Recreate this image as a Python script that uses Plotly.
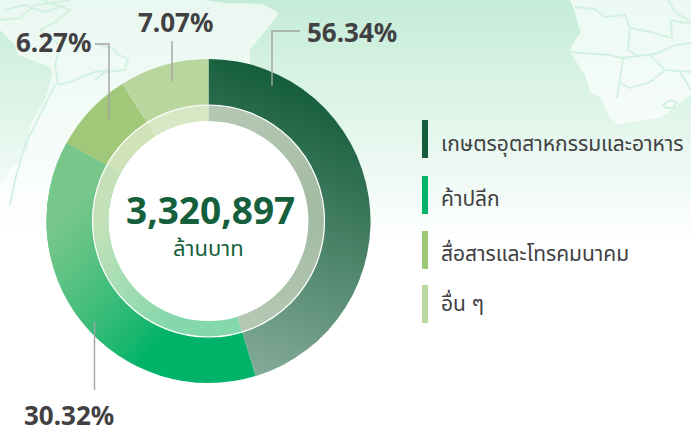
import base64, zlib, struct
import numpy as np
import plotly.graph_objects as go

W, H = 691, 427
CX, CY = 208.5, 221.0
R_OUT, R_MID, R_IN = 162.0, 116.0, 100.0

categories = ["เกษตรอุตสาหกรรมและอาหาร", "ค้าปลีก", "สื่อสารและโทรคมนาคม", "อื่น ๆ"]
slice_shares = [45.3, 37.7, 8.1, 8.9]          # shares as drawn in the picture
percent_labels = ["56.34%", "30.32%", "6.27%", "7.07%"]
total_label = "3,320,897"
unit_label = "ล้านบาท"
outer_colors = ["#155e3c", "#00b368", "#a0c878", "#bad69f"]
inner_colors = ["#a3bba2", "#84d8ac", "#cfe2b8", "#d8e7c4"]
legend_colors = ["#155e3c", "#00b368", "#9dc875", "#bad89f"]
TXT = "#414042"
GREEN_TXT = "#165f3d"
NUM_FONT = "Noto Sans"
THAI_FONT = "Noto Sans Thai, Noto Sans, sans-serif"


def png_uri(rgba):
    h, w = rgba.shape[:2]
    raw = b"".join(b"\x00" + rgba[i].tobytes() for i in range(h))
    def chunk(t, d):
        return struct.pack(">I", len(d)) + t + d + struct.pack(">I", zlib.crc32(t + d) & 0xffffffff)
    data = (b"\x89PNG\r\n\x1a\n" + chunk(b"IHDR", struct.pack(">IIBBBBB", w, h, 8, 6, 0, 0, 0))
            + chunk(b"IDAT", zlib.compress(raw, 6)) + chunk(b"IEND", b""))
    return "data:image/png;base64," + base64.b64encode(data).decode()


def px(x):
    return x / W


def py(y):
    return 1 - y / H


def path(points, close=True):
    s = "M" + " L".join(f"{px(x):.5f},{py(y):.5f}" for x, y in points)
    return s + (" Z" if close else "")


# background gradient
yy = np.arange(H)[:, None]
t = np.clip(yy / 245.0, 0, 1)
top = np.array([197, 236, 216.0])
bg = top + (255 - top) * t
bg_img = np.zeros((H, 1, 4), dtype=np.uint8)
bg_img[..., :3] = bg[:, None, :].reshape(H, 1, 3).round().astype(np.uint8)
bg_img[..., 3] = 255
bg_uri = png_uri(np.repeat(bg_img, 4, axis=1))

# gradient veil over the ring
S = 2
ys, xs = np.mgrid[0:H * S, 0:W * S]
X = (xs + .5) / S
Y = (ys + .5) / S
dx, dy = X - CX, Y - CY
rad = np.hypot(dx, dy)
ang = (np.degrees(np.arctan2(dx, -dy)) + 360) % 360
edges = np.cumsum([0] + slice_shares) / sum(slice_shares) * 360
in_dark = (ang < edges[1])
in_green = (ang >= edges[1]) & (ang < edges[2])
ring = rad <= R_OUT
outer = ring & (rad > R_MID)
inner = (rad <= R_MID) & (rad > R_IN)
ov = np.zeros((H * S, W * S, 4), dtype=np.float32)
# dark slice fades toward white
a = np.clip((X - 280) * -0.00064 + (Y - 75) * 0.00154, 0, .5)
m = in_dark & outer
ov[m, :3] = 255
ov[m, 3] = a[m]
# inner dark
a2 = np.clip(np.abs(Y - 215) / 105.0, 0, 1) * .18
m = in_dark & inner
ov[m, :3] = 255
ov[m, 3] = a2[m]
# green slice fades toward a soft leaf green
d = (155 - X) * .75 + (345 - Y) * .66
a3 = np.clip(d / 153.0, 0, 1) ** .8 * .75
m = in_green & outer
ov[m, :3] = (160, 205, 150)
ov[m, 3] = a3[m]
m = in_green & inner
a4 = np.clip(d / 125.0, 0, 1) * .95
ov[m, :3] = (200, 226, 186)
ov[m, 3] = a4[m]
ov[..., 3] *= 255
ov_uri = png_uri(ov.round().astype(np.uint8))

# map land, in picture pixels
land_sa = [(0, 30), (15, 45), (18, 55), (50, 67), (52, 75), (45, 100), (30, 125), (28, 150), (10, 170), (0, 185),
           (0, 260), (260, 260), (250, 70), (250, 50), (277, 16), (278, 12), (262, 4), (225, 3), (205, 0), (0, 0)]
land_af = [(570, 0), (575, 12), (578, 25), (581, 32), (572, 45), (570, 52), (585, 75), (590, 92), (600, 97),
           (610, 118), (618, 124), (660, 118), (691, 95), (691, 0)]
borders = [
    [(0, 20), (20, 18), (35, 5), (70, 0)], [(5, 10), (25, 5), (45, 12), (65, 5)],
    [(42, 0), (70, 10), (55, 22), (40, 30), (60, 45), (55, 65), (58, 85), (70, 82), (95, 72), (110, 70)],
    [(95, 44), (112, 48), (118, 55), (128, 58), (125, 70), (105, 72), (95, 80)],
    [(55, 85), (45, 105), (35, 125), (25, 145), (15, 180), (10, 205)],
    [(575, 7), (595, 9), (605, 17), (625, 15), (630, 28), (650, 32), (672, 38), (671, 20), (691, 24)],
    [(630, 28), (628, 50), (638, 56), (655, 54), (675, 45), (691, 43)], [(570, 52), (610, 55), (622, 58), (638, 56)],
    [(623, 58), (620, 80), (617, 98)], [(650, 55), (665, 70), (691, 72)], [(665, 70), (650, 82), (630, 88), (622, 84)],
    [(680, 72), (691, 90)], [(668, 0), (675, 12), (691, 22)],
]
lesotho = [(663, 105), (670, 100), (677, 102), (673, 108), (666, 108)]

shapes = []
shapes.append(dict(type="path", path=path(land_sa), fillcolor="rgba(255,255,255,.62)", line_width=0, layer="below"))
shapes.append(dict(type="path", path=path(land_af), fillcolor="rgba(255,255,255,.68)", line_width=0, layer="below"))
for b in borders:
    shapes.append(dict(type="path", path=path(b, False), line=dict(color="#d2f0e2", width=1.8), layer="below"))
shapes.append(dict(type="path", path=path(lesotho), line=dict(color="#d2f0e2", width=1.8), layer="below"))
# centre disc
shapes.append(dict(type="circle", xref="paper", yref="paper", x0=px(CX - R_IN), x1=px(CX + R_IN),
                   y0=py(CY + R_IN), y1=py(CY - R_IN), fillcolor="white", line_width=0, layer="below"))
# hairline between the rings
shapes.append(dict(type="circle", xref="paper", yref="paper", x0=px(CX - R_MID), x1=px(CX + R_MID),
                   y0=py(CY + R_MID), y1=py(CY - R_MID), line=dict(color="white", width=1.2), layer="above"))
# leader lines
for pts in [[(300, 31), (272, 31), (272, 86)], [(172, 41), (172, 81)],
            [(95, 44), (109, 44), (109, 119)], [(94.5, 322), (94.5, 390)]]:
    shapes.append(dict(type="path", path=path(pts, False), line=dict(color="#a3a3a3", width=1.4), layer="above"))
# legend bars
for (y0, y1), col in zip([(120, 158), (176, 214), (231, 269), (285, 323)], legend_colors):
    shapes.append(dict(type="rect", xref="paper", yref="paper", x0=px(422), x1=px(428), y0=py(y1), y1=py(y0),
                       fillcolor=col, line_width=0, layer="above"))
for s in shapes:
    s.setdefault("xref", "paper")
    s.setdefault("yref", "paper")


def donut(colors, r_out, r_in):
    return go.Pie(values=slice_shares, labels=categories, sort=False, direction="clockwise", rotation=0,
                  hole=r_in / r_out, textinfo="none", hoverinfo="label+percent", showlegend=False,
                  marker=dict(colors=colors, line=dict(width=0)),
                  domain=dict(x=[px(CX - r_out), px(CX + r_out)], y=[py(CY + r_out), py(CY - r_out)]))


fig = go.Figure([donut(outer_colors, R_OUT, R_MID), donut(inner_colors, R_MID, R_IN)])

ann = []


def text(x, y, s, size, color, family, anchor="center", bold=False):
    ann.append(dict(xref="paper", yref="paper", x=px(x), y=py(y), text=f"<b>{s}</b>" if bold else s, showarrow=False,
                    xanchor=anchor, yanchor="middle", font=dict(size=size, color=color, family=family)))


text(352, 32, percent_labels[0], 26, TXT, NUM_FONT, bold=True)
text(69, 415, percent_labels[1], 26, TXT, NUM_FONT, bold=True)
text(54, 42, percent_labels[2], 26, TXT, NUM_FONT, bold=True)
text(176, 22, percent_labels[3], 26, TXT, NUM_FONT, bold=True)
text(211, 209, total_label, 37, GREEN_TXT, NUM_FONT, bold=True)
text(208, 249, unit_label, 22, GREEN_TXT, THAI_FONT)
for y, c in zip([145, 199, 254, 304], categories):
    text(439, y, c, 21, TXT, THAI_FONT, anchor="left")

fig.update_layout(
    width=W, height=H, margin=dict(l=0, r=0, t=0, b=0), autosize=False,
    paper_bgcolor="white", plot_bgcolor="rgba(0,0,0,0)", showlegend=False,
    xaxis=dict(visible=False), yaxis=dict(visible=False),
    shapes=shapes, annotations=ann,
    images=[
        dict(source=bg_uri, xref="paper", yref="paper", x=0, y=1, sizex=1, sizey=1, sizing="stretch",
             xanchor="left", yanchor="top", layer="below"),
        dict(source=ov_uri, xref="paper", yref="paper", x=0, y=1, sizex=1, sizey=1, sizing="stretch",
             xanchor="left", yanchor="top", layer="above"),
    ],
)
fig.write_html("out.html", config=dict(displayModeBar=False),
               post_script="document.body.style.margin='0';document.body.style.overflow='hidden';")
